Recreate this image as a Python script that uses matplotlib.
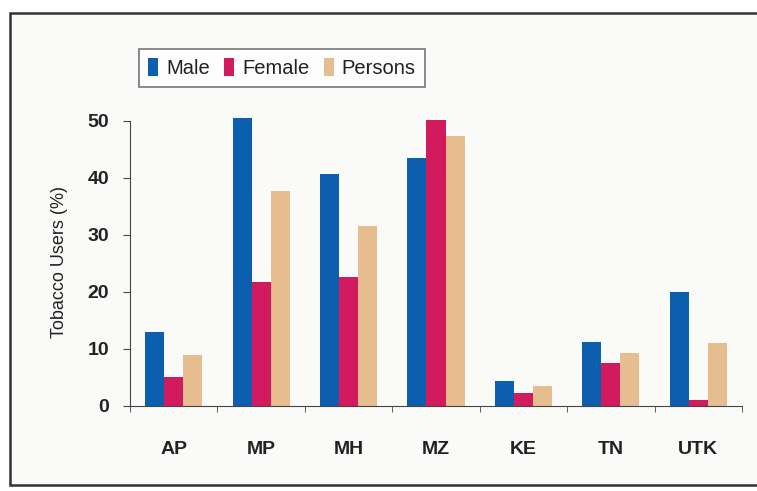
import numpy as np
import matplotlib.pyplot as plt
from matplotlib.patches import Rectangle

states = ["AP", "MP", "MH", "MZ", "KE", "TN", "UTK"]
male = [13.0, 50.5, 40.6, 43.5, 4.4, 11.2, 20.0]
female = [5.0, 21.8, 22.7, 50.2, 2.3, 7.5, 1.0]
persons = [9.0, 37.7, 31.6, 47.4, 3.5, 9.3, 11.1]
series = ["Male", "Female", "Persons"]
colors = ["#0b5fae", "#d21a5e", "#e6bd8e"]

plt.rcParams['font.family'] = ['Liberation Sans', 'DejaVu Sans']

fig = plt.figure(figsize=(7.57, 4.91), dpi=100)
fig.patch.set_facecolor("#ffffff")
# scanned page frame
fig.patches.append(Rectangle((10 / 757, 6 / 491), 760 / 757, 472 / 491,
                             transform=fig.transFigure, facecolor="#fafaf8",
                             edgecolor="#333333", linewidth=1.8, zorder=-10))

ax = fig.add_axes([130 / 757, 1 - 406 / 491, 612 / 757, 288 / 491])
ax.set_facecolor("none")

x = np.arange(len(states)) + 0.5
w = 0.218
for i, (vals, name, c) in enumerate(zip([male, female, persons], series, colors)):
    ax.bar(x + (i - 1) * w, vals, width=w, color=c, label=name, clip_on=False)

ax.set_xlim(0, 7)
ax.set_ylim(0, 50.5)
ax.set_yticks([0, 10, 20, 30, 40, 50])
ax.set_xticks(x)
ax.set_xticklabels(states, fontsize=14, fontweight="bold", color="#222222")
ax.set_xticks(np.arange(0, 8), minor=True)
ax.tick_params(axis="x", which="major", length=0, pad=25)
ax.tick_params(axis="x", which="minor", length=4, direction="out", color="#444444")
ax.tick_params(axis="y", labelsize=14, length=5, pad=10, color="#444444",
               labelcolor="#222222")
for lab in ax.get_yticklabels():
    lab.set_fontweight("bold")
for s in ["top", "right"]:
    ax.spines[s].set_visible(False)
ax.spines["left"].set_bounds(0, 50)
ax.spines["left"].set_color("#444444")
ax.spines["bottom"].set_color("#444444")
ax.set_ylabel("Tobacco Users (%)", fontsize=13, color="#222222", labelpad=14)

leg = ax.legend(loc="center", bbox_to_anchor=(282 / 757, 1 - 68 / 491),
                bbox_transform=fig.transFigure, ncol=3, fontsize=14.5,
                frameon=True, fancybox=False, handlelength=0.5, handleheight=1.0,
                handletextpad=0.4, columnspacing=0.7, borderpad=0.45)
leg.get_frame().set_edgecolor("#555555")
leg.get_frame().set_linewidth(1.2)
for t in leg.get_texts():
    t.set_color("#222222")

fig.savefig("out.png", dpi=100)
